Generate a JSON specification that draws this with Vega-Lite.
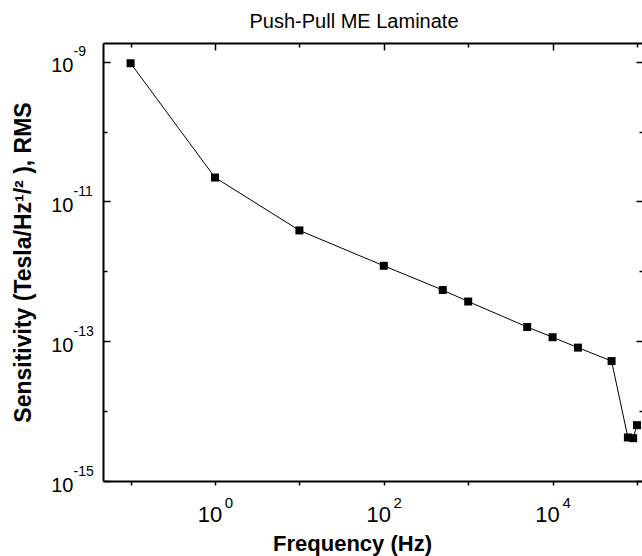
{
  "$schema": "https://vega.github.io/schema/vega-lite/v6.json",
  "width": 540,
  "height": 438,
  "autosize": {"type": "none"},
  "padding": {"left": 103, "top": 43, "right": 0, "bottom": 75},
  "background": "white",
  "config": {"view": {"stroke": null}, "font": "Liberation Sans"},
  "title": {"text": "Push-Pull ME Laminate", "fontSize": 20, "fontWeight": "normal", "font": "Liberation Sans", "color": "black", "anchor": "middle", "dx": -19, "offset": -6, "baseline": "alphabetic"},
  "data": {"values": [
    {"freq": 0.1, "sens": 9.5e-10},
    {"freq": 1, "sens": 2.2e-11},
    {"freq": 10, "sens": 3.85e-12},
    {"freq": 100, "sens": 1.2e-12},
    {"freq": 500, "sens": 5.4e-13},
    {"freq": 1000, "sens": 3.7e-13},
    {"freq": 5000, "sens": 1.6e-13},
    {"freq": 10000, "sens": 1.14e-13},
    {"freq": 20000, "sens": 8.1e-14},
    {"freq": 50000, "sens": 5.2e-14},
    {"freq": 78000, "sens": 4.2e-15},
    {"freq": 90000, "sens": 4.1e-15},
    {"freq": 100000, "sens": 6.3e-15}
  ]},
  "layer": [
    {
      "mark": {"type": "line", "color": "black", "strokeWidth": 1},
      "encoding": {
        "x": {"field": "freq", "type": "quantitative",
          "scale": {"type": "log", "domain": [0.0471, 117800], "nice": false},
          "axis": {"orient": "bottom", "values": [0.1, 1, 10, 100, 1000, 10000, 100000],
            "labelExpr": "datum.value == 1 || datum.value == 100 || datum.value == 10000 ? '10' : ''",
            "grid": false, "tickSize": 4, "tickWidth": 1.5, "tickColor": "black",
            "domainColor": "black", "domainWidth": 2,
            "labelFont": "Liberation Sans", "labelFontSize": 22, "labelColor": "black", "labelPadding": 36.5,
            "labelBaseline": "alphabetic", "labelOffset": -5.5,
            "labelFlush": false, "labelOverlap": false,
            "title": "Frequency (Hz)", "titleFont": "Liberation Sans", "titleFontSize": 22, "titleFontWeight": "bold", "titleColor": "black",
            "titleX": 249, "titleY": 69, "titleBaseline": "alphabetic", "titleAlign": "center"}},
        "y": {"field": "sens", "type": "quantitative",
          "scale": {"type": "log", "domain": [1e-15, 1.85e-9], "nice": false},
          "axis": {"orient": "left", "values": [1e-15, 1e-14, 1e-13, 1e-12, 1e-11, 1e-10, 1e-9],
            "labels": false, "grid": false,
            "tickSize": {"condition": {"test": "round(log(datum.value)/LN10) % 2 != 0", "value": -7}, "value": -4},
            "tickWidth": 1.5, "tickColor": "black",
            "domainColor": "black", "domainWidth": 2,
            "title": "Sensitivity (Tesla/Hz¹/² ), RMS", "titleFont": "Liberation Sans", "titleFontSize": 23, "titleFontWeight": "bold", "titleColor": "black",
            "titleX": -73, "titleY": 219, "titleBaseline": "alphabetic", "titleAlign": "center", "titleAngle": -90}}
      }
    },
    {
      "mark": {"type": "point", "shape": "square", "filled": true, "color": "black", "size": 64, "opacity": 1},
      "encoding": {
        "x": {"field": "freq", "type": "quantitative",
          "scale": {"type": "log", "domain": [0.0471, 117800], "nice": false},
          "axis": {"orient": "top", "values": [0.1, 1, 10, 100, 1000, 10000, 100000],
            "labels": false, "title": null, "grid": false,
            "tickSize": {"condition": {"test": "round(log(datum.value)/LN10) % 2 == 0", "value": -7}, "value": -4},
            "tickWidth": 1.5, "tickColor": "black", "domainColor": "black", "domainWidth": 2}},
        "y": {"field": "sens", "type": "quantitative",
          "scale": {"type": "log", "domain": [1e-15, 1.85e-9], "nice": false},
          "axis": {"orient": "right", "values": [1e-15, 1e-14, 1e-13, 1e-12, 1e-11, 1e-10, 1e-9],
            "labels": false, "title": null, "grid": false,
            "tickSize": {"condition": {"test": "round(log(datum.value)/LN10) % 2 != 0", "value": -7}, "value": -4},
            "tickWidth": 1.5, "tickColor": "black", "domainColor": "black", "domainWidth": 2}}
      }
    },
    {
      "mark": {"type": "line", "strokeOpacity": 0},
      "encoding": {
        "x": {"field": "freq", "type": "quantitative",
          "scale": {"type": "log", "domain": [0.0471, 117800], "nice": false},
          "axis": {"orient": "bottom", "values": [1, 100, 10000],
            "labelExpr": "datum.value == 1 ? '0' : datum.value == 100 ? '2' : '4'",
            "ticks": false, "domain": false, "grid": false, "title": null,
            "labelFont": "Liberation Sans", "labelFontSize": 15, "labelColor": "black", "labelPadding": 26,
            "labelBaseline": "alphabetic", "labelOffset": 13.5, "labelFlush": false, "labelOverlap": false}},
        "y": {"field": "sens", "type": "quantitative",
          "scale": {"type": "log", "domain": [1e-15, 1.85e-9], "nice": false},
          "axis": {"orient": "left", "values": [1e-15, 1e-13, 1e-11, 1e-9],
            "labelExpr": "'10'",
            "ticks": false, "domain": false, "grid": false, "title": null,
            "labelFont": "Liberation Sans", "labelFontSize": 20, "labelColor": "black", "labelPadding": 30,
            "labelAlign": "right", "labelBaseline": "alphabetic", "labelOffset": 10, "labelFlush": false, "labelOverlap": false}}
      }
    },
    {
      "mark": {"type": "line", "strokeOpacity": 0},
      "encoding": {
        "x": {"field": "freq", "type": "quantitative",
          "scale": {"type": "log", "domain": [0.0471, 117800], "nice": false},
          "axis": null},
        "y": {"field": "sens", "type": "quantitative",
          "scale": {"type": "log", "domain": [1e-15, 1.85e-9], "nice": false},
          "axis": {"orient": "left", "values": [1e-15, 1e-13, 1e-11, 1e-9],
            "labelExpr": "'-' + format(-round(log(datum.value)/LN10), 'd')",
            "ticks": false, "domain": false, "grid": false, "title": null,
            "labelFont": "Liberation Sans", "labelFontSize": 14, "labelColor": "black", "labelPadding": 30,
            "labelAlign": "left", "labelBaseline": "alphabetic", "labelOffset": -6, "labelFlush": false, "labelOverlap": false}}
      }
    }
  ],
  "resolve": {"axis": {"x": "independent", "y": "independent"}}
}
